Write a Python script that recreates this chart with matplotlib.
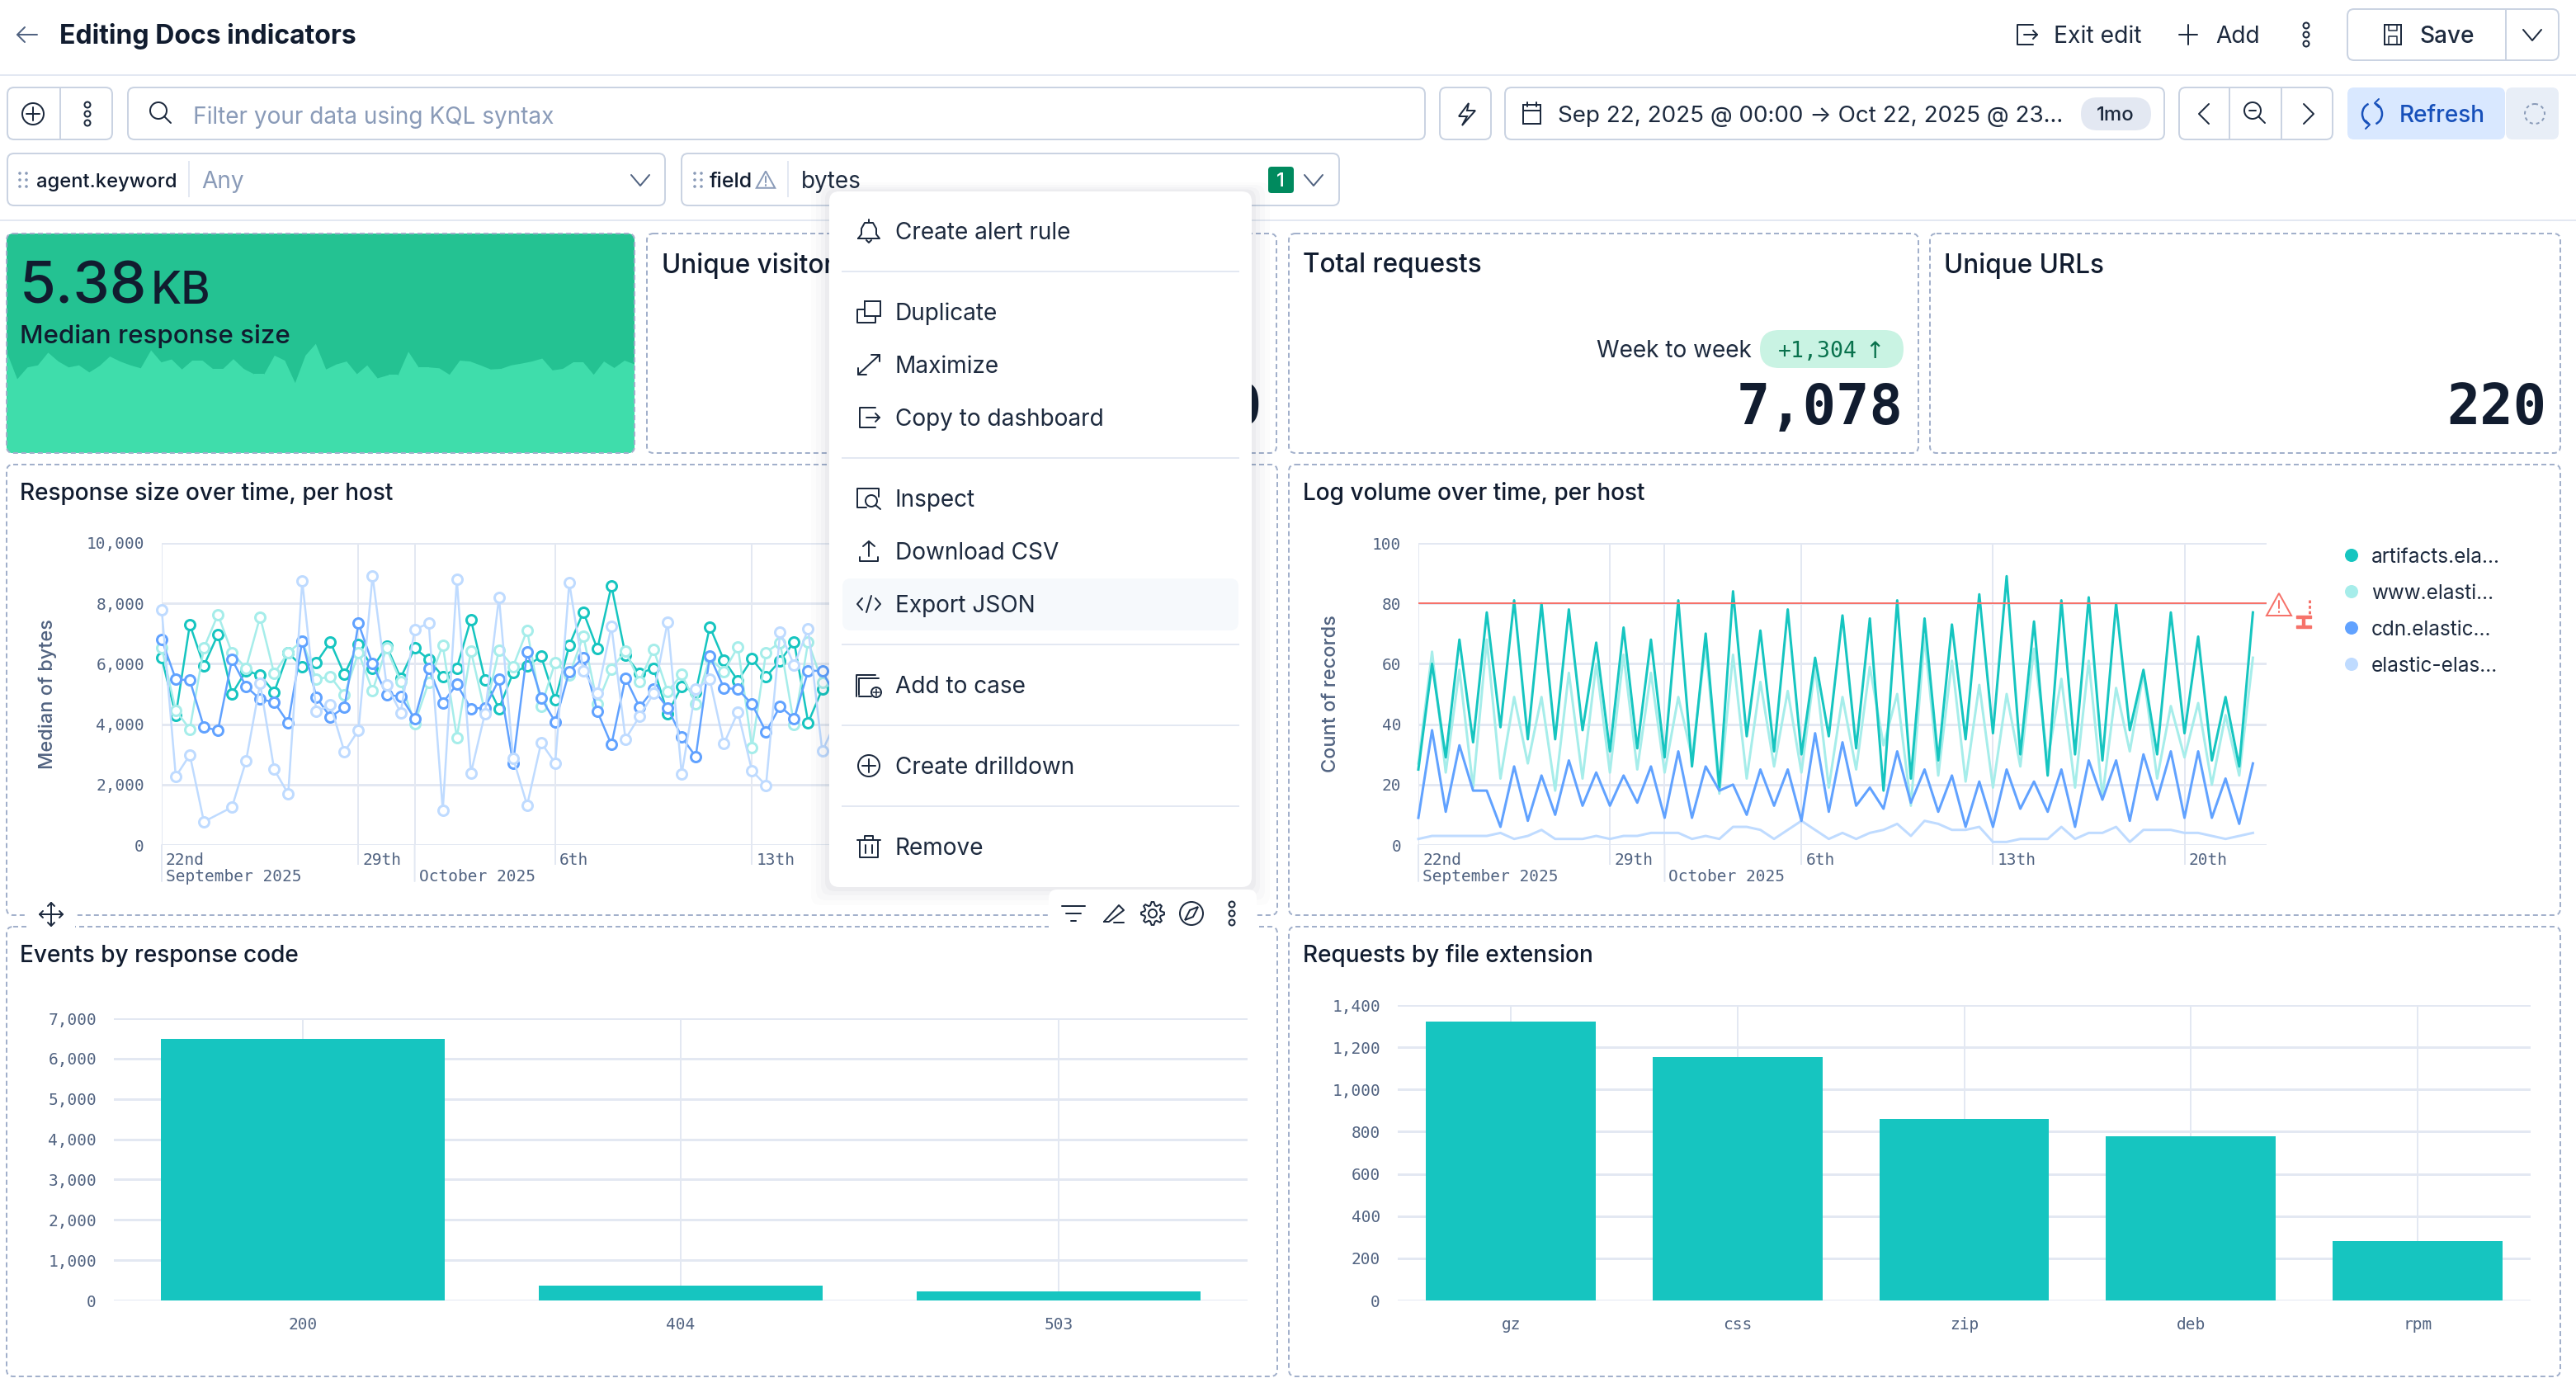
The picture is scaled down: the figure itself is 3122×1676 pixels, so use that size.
import math

import pandas as pd
from matplotlib import dates as mdates, pyplot as plt
from matplotlib.patches import Arc, Circle, FancyBboxPatch, Polygon, Rectangle

W, H = 3122, 1676
DPI = 100

INK = "#111C2F"
TEXT = "#1D2A3E"
SUB = "#516381"
PLACEHOLDER = "#8A9BB8"
LINE = "#E3E8F2"
BORDER = "#CAD3E2"
DASH = "#A2B0CB"
TEAL = "#16C5C0"
TEAL_L = "#A6EDEA"
BLUE = "#61A2FF"
BLUE_L = "#BFDBFF"
RED = "#F6726A"
SANS = ["Inter", "DejaVu Sans"]
MONO = ["DejaVu Sans Mono"]
TICK_PX = 19.5

# half-day buckets, Sep 22 to Oct 22
times = pd.date_range("2025-09-22", periods=62, freq="12h")

# median bytes, the part not hidden by the menu
size_artifacts = [6190, 4290, 7300, 5936, 6970, 5005, 5767, 5625, 5061, 6360, 5908, 6039, 6717, 5644, 6641, 5860,
                  6585, 5531, 6519, 6143, 5578, 5860, 7469, 5465, 4515, 5700, 5926, 6246, 4798, 6613, 7714, 6491,
                  8579, 6284, 5672, 5860, 4355, 5249, 5061, 7225, 6124, 5437, 6162, 5578, 6096, 6726, 4054, 5155, 5343]
size_www = [6519, 4450, 3838, 6519, 7629, 6360, 5860, 7554, 5672, 6378, 6754, 5484, 5578, 4967, 6378, 5108,
            6519, 5409, 4026, 5390, 6613, 3556, 6425, 4403, 6453, 5908, 7112, 4591, 6049, 5625, 6924, 4685,
            5832, 6425, 5418, 6472, 5080, 5644, 4685, 6190, 5738, 6566, 3227, 6378, 6707, 3979, 6726, 5390, 5155]
size_cdn = [6801, 5484, 5456, 3904, 3791, 6143, 5249, 4826, 4732, 4045, 6754, 4901, 4233, 4562, 7337, 6002,
            4967, 4920, 4186, 5842, 4704, 5324, 4515, 4544, 5484, 2709, 6397, 4873, 4073, 5748, 6209, 4421,
            3321, 5531, 4562, 5155, 4534, 3575, 2926, 6256, 5202, 5155, 4666, 3744, 4591, 4186, 5767, 5767, 4873]
size_elastic = [7789, 2267, 2982, 771, None, 1251, 2784, 5343, 2502, 1693, 8730, 4421, 4638, 3085, 3800, 8918,
                5296, 4384, 7130, 7347, 1138, 8786, 2380, 4355, 8194, 2878, 1317, 3387, 2709, 8683, 5767, 5014,
                7243, 3509, 4261, 5014, 7384, 2352, 5174, 5484, 3349, 4403, 2455, 1975, 7037, 5955, 7149, 3104, 4120]

# count of records
log_artifacts = [25, 60, 29, 68, 34, 77, 39, 81, 35, 80, 35, 78, 38, 67, 31, 72, 32, 68, 29, 81, 26, 70, 19, 84, 36, 71,
                 31, 78, 30, 62, 36, 76, 32, 75, 18, 81, 22, 75, 28, 73, 35, 83, 37, 89, 30, 74, 23, 81, 30, 82, 28, 80,
                 38, 58, 30, 77, 37, 69, 28, 49, 26, 77]
log_www = [27, 64, 24, 58, 19, 68, 22, 49, 27, 49, 18, 57, 22, 60, 24, 63, 25, 57, 24, 49, 29, 66, 17, 63, 22, 54,
           26, 51, 24, 59, 19, 49, 25, 59, 33, 50, 13, 69, 23, 61, 21, 53, 19, 50, 26, 65, 28, 55, 19, 61, 16, 52,
           31, 57, 22, 46, 29, 47, 20, 43, 23, 62]
log_cdn = [9, 38, 11, 33, 18, 18, 6, 26, 8, 23, 10, 28, 13, 24, 13, 23, 14, 26, 9, 31, 9, 26, 18, 20, 10, 25,
           13, 25, 8, 37, 11, 34, 13, 19, 12, 31, 14, 25, 11, 23, 6, 21, 6, 25, 12, 21, 11, 25, 6, 28, 15, 28,
           8, 30, 15, 31, 9, 31, 9, 22, 7, 27]
log_elastic = [2, 3, 3, 3, 3, 3, 4, 2, 3, 5, 2, 2, 2, 3, 2, 3, 3, 4, 4, 4, 2, 3, 2, 6, 6, 5,
               2, 5, 8, 5, 2, 4, 2, 4, 5, 7, 3, 8, 7, 5, 5, 6, 1, 1, 2, 2, 2, 6, 2, 4, 4, 6,
               1, 5, 5, 5, 4, 4, 3, 2, 3, 4]
hosts = ["artifacts.ela...", "www.elasti...", "cdn.elastic...", "elastic-elas..."]
host_colors = [TEAL, TEAL_L, BLUE, BLUE_L]

# trend behind the metric tile
trend = [6395, 4712, 5460, 5591, 6395, 5834, 5460, 5591, 5142, 5554, 6152, 5834, 5591, 5404, 6545, 5778, 5965, 5329,
         5890, 5890, 5367, 5367, 5984, 5367, 5030, 5030, 6208, 5890, 4469, 6208, 6956, 5329, 5647, 5834, 5030, 5591,
         4768, 4955, 4955, 6451, 5460, 5460, 5404, 4993, 5890, 5834, 5591, 5329, 5367, 5591, 5703, 5834, 6021, 5273,
         5367, 5778, 5778, 4993, 5834, 5423, 5890, 5647]

codes = ["200", "404", "503"]
code_counts = [6489, 368, 218]
extensions = ["gz", "css", "zip", "deb", "rpm"]
extension_counts = [1320, 1155, 861, 780, 281]

menu_items = ["Create alert rule", "Duplicate", "Maximize", "Copy to dashboard", "Inspect", "Download CSV",
              "Export JSON", "Add to case", "Create drilldown", "Remove"]


def pt(px):
    return px * 72 / DPI


fig = plt.figure(figsize=(W / DPI, H / DPI), dpi=DPI, facecolor="white")


def make_axes(x0, y0, x1, y1, z=1):
    return fig.add_axes([x0 / W, 1 - y1 / H, (x1 - x0) / W, (y1 - y0) / H], zorder=z)


ui = make_axes(0, 0, W, H, z=5)
ui.set_xlim(0, W)
ui.set_ylim(H, 0)
ui.axis("off")
ui.patch.set_alpha(0)


def label(x, y, s, px, color=TEXT, weight="normal", ha="left", va="center_baseline", family=None, z=5, **kw):
    return ui.text(x, y, s, fontsize=pt(px), color=color, fontweight=weight, ha=ha, va=va,
                   family=family or SANS, zorder=z, **kw)


def box(x0, y0, x1, y1, r=8, fc="none", ec=BORDER, lw=2, ls="-", z=2):
    p = FancyBboxPatch((x0 + r, y0 + r), x1 - x0 - 2 * r, y1 - y0 - 2 * r, boxstyle=f"round,pad={r},rounding_size={r}",
                       fc=fc, ec=ec, lw=pt(lw), ls=ls, zorder=z)
    ui.add_patch(p)
    return p


def stroke(xs, ys, color=TEXT, lw=2, z=6, **kw):
    ui.plot(xs, ys, color=color, lw=pt(lw), zorder=z, solid_capstyle="round", **kw)


def ring(x, y, r, color=TEXT, lw=2, fc="none", z=6):
    ui.add_patch(Circle((x, y), r, fc=fc, ec=color, lw=pt(lw), zorder=z))


def dots(x, y, z=6, color=TEXT):
    for dy in (-11, 0, 11):
        ring(x, y + dy, 3.5, color=color, z=z)


def chevron(x, y, color=TEXT, z=6):
    stroke([x - 11, x, x + 11], [y - 6, y + 7, y - 6], color=color, z=z)


def magnifier(x, y, color=TEXT, z=6):
    ring(x - 2, y - 2, 10, color=color, z=z)
    stroke([x + 5, x + 13], [y + 5, y + 13], color=color, z=z)


def exit_icon(x, y, z=6, color=TEXT):
    stroke([x + 8, x - 11, x - 11, x + 8], [y - 12, y - 12, y + 12, y + 12], color=color, z=z)
    stroke([x - 3, x + 13], [y, y], color=color, z=z)
    stroke([x + 8, x + 13, x + 8], [y - 5, y, y + 5], color=color, z=z)


def bell(x, y, z=6):
    xs = [x - 13, x - 9, x - 9, x - 5, x + 5, x + 9, x + 9, x + 13, x - 13]
    ys = [y + 9, y + 4, y - 3, y - 10, y - 10, y - 3, y + 4, y + 9, y + 9]
    stroke(xs, ys, z=z)
    stroke([x, x], [y - 14, y - 10], z=z)
    stroke([x - 3, x, x + 3], [y + 11, y + 14, y + 11], z=z)


def duplicate_icon(x, y, z=6):
    ui.add_patch(Rectangle((x - 5, y - 13), 19, 18, fc="none", ec=TEXT, lw=pt(2), zorder=z))
    stroke([x - 5, x - 14, x - 14, x + 8, x + 8], [y - 3, y - 3, y + 13, y + 13, y + 5], z=z)


def maximize_icon(x, y, z=6):
    stroke([x - 13, x + 13], [y + 12, y - 12], z=z)
    stroke([x + 3, x + 13, x + 13], [y - 12, y - 12, y - 4], z=z)
    stroke([x - 13, x - 13, x - 3], [y + 4, y + 12, y + 12], z=z)


def inspect_icon(x, y, z=6):
    stroke([x - 3, x - 14, x - 14, x + 12, x + 12], [y + 11, y + 11, y - 12, y - 12, y - 2], z=z)
    ring(x + 3, y + 3, 7, z=z)
    stroke([x + 8, x + 14], [y + 8, y + 13], z=z)


def upload_icon(x, y, z=6):
    stroke([x - 11, x - 11, x + 11, x + 11], [y + 7, y + 12, y + 12, y + 7], z=z)
    stroke([x, x], [y - 12, y + 6], z=z)
    stroke([x - 7, x, x + 7], [y - 6, y - 12, y - 6], z=z)


def code_icon(x, y, z=6):
    stroke([x - 8, x - 14, x - 8], [y - 7, y, y + 7], z=z)
    stroke([x + 8, x + 14, x + 8], [y - 7, y, y + 7], z=z)
    stroke([x - 3, x + 3], [y + 10, y - 10], z=z)


def case_icon(x, y, z=6):
    stroke([x - 12, x - 12, x + 12], [y + 12, y - 8, y - 8], z=z)
    stroke([x - 15, x - 15, x + 8], [y + 14, y - 12, y - 12], z=z)
    stroke([x - 12, x + 3], [y + 14, y + 14], z=z)
    ring(x + 9, y + 9, 6, z=z)
    stroke([x + 5, x + 13], [y + 9, y + 9], lw=1.5, z=z)
    stroke([x + 9, x + 9], [y + 5, y + 13], lw=1.5, z=z)


def plus_circle(x, y, r=13, z=6):
    ring(x, y, r, z=z)
    stroke([x - r + 5, x + r - 5], [y, y], z=z)
    stroke([x, x], [y - r + 5, y + r - 5], z=z)


def trash(x, y, z=6):
    stroke([x - 11, x - 11, x + 11, x + 11], [y - 8, y + 13, y + 13, y - 8], z=z)
    stroke([x - 14, x + 14], [y - 8, y - 8], z=z)
    stroke([x - 5, x - 5, x + 5, x + 5], [y - 8, y - 13, y - 13, y - 8], z=z)
    stroke([x - 4, x - 4], [y - 2, y + 8], z=z)
    stroke([x + 4, x + 4], [y - 2, y + 8], z=z)


def warning(x, y, color=PLACEHOLDER, size=1.0, z=6):
    s = size
    ui.add_patch(Polygon([(x, y - 14 * s), (x + 15 * s, y + 13 * s), (x - 15 * s, y + 13 * s)], closed=True,
                         fc="none", ec=color, lw=pt(2), zorder=z))
    stroke([x, x], [y - 5 * s, y + 4 * s], color=color, z=z)
    stroke([x, x], [y + 8 * s, y + 9 * s], color=color, z=z)


def refresh_icon(x, y, color, z=6):
    ui.add_patch(Arc((x, y), 24, 26, theta1=110, theta2=250, color=color, lw=pt(2.5), zorder=z))
    ui.add_patch(Arc((x, y), 24, 26, theta1=290, theta2=70, color=color, lw=pt(2.5), zorder=z))
    stroke([x - 8, x - 3, x - 8], [y + 8, y + 13, y + 18], color=color, z=z)
    stroke([x + 8, x + 3, x + 8], [y - 18, y - 13, y - 8], color=color, z=z)


def gear(x, y, z=10):
    xs, ys = [], []
    for i in range(32):
        radius = 14 if i % 4 in (0, 1) else 10
        angle = 2 * math.pi * (i - 0.5) / 32
        xs.append(x + radius * math.cos(angle))
        ys.append(y + radius * math.sin(angle))
    ui.add_patch(Polygon(list(zip(xs, ys)), closed=True, fc="none", ec=TEXT, lw=pt(2), zorder=z))
    ring(x, y, 5, z=z)


# header row
ui.plot([0, W], [91, 91], color=LINE, lw=pt(2), zorder=1)
stroke([45, 21], [42, 42], color=SUB)
stroke([30, 21, 30], [33, 42, 51], color=SUB)
label(72, 41, "Editing Docs indicators", 32, color=INK, weight="bold")
exit_icon(2456, 42)
label(2489, 42, "Exit edit", 28.3)
stroke([2641, 2663], [42, 42])
stroke([2652, 2652], [30, 54])
label(2685, 42, "Add", 28)
dots(2795, 42)
box(2845, 11, 3101, 73)
ui.plot([3037, 3037], [11, 73], color=BORDER, lw=pt(2), zorder=3)
ui.add_patch(Rectangle((2890, 30), 20, 24, fc="none", ec=TEXT, lw=pt(2), zorder=6))
stroke([2895, 2895, 2905, 2905], [30, 37, 37, 30], lw=1.5)
stroke([2895, 2895, 2905, 2905], [54, 44, 44, 54], lw=1.5)
label(2932, 42, "Save", 28, weight="medium")
chevron(3069, 42)

# query row
box(9, 106, 136, 169)
ui.plot([73, 73], [106, 169], color=BORDER, lw=pt(2), zorder=3)
plus_circle(40, 138)
dots(106, 138)
box(155, 106, 1727, 169)
magnifier(194, 136)
label(234, 139, "Filter your data using KQL syntax", 28, color=PLACEHOLDER)
box(1745, 106, 1807, 169)
ui.add_patch(Polygon([(1780, 125), (1768, 141), (1778, 141), (1772, 152), (1788, 134), (1778, 134)], closed=True,
                     fc="none", ec=TEXT, lw=pt(2), zorder=6))
box(1824, 106, 2623, 169)
ui.add_patch(Rectangle((1846, 127), 21, 23, fc="none", ec=TEXT, lw=pt(2), zorder=6))
stroke([1846, 1867], [134, 134])
stroke([1851, 1851], [124, 129])
stroke([1862, 1862], [124, 129])
label(1888, 138, "Sep 22, 2025 @ 00:00 \u2192 Oct 22, 2025 @ 23...", 27.8)
box(2522, 118, 2607, 158, r=20, fc=LINE, ec="none", z=3)
label(2564, 138, "1mo", 24, ha="center", weight="medium")
box(2641, 106, 2827, 169)
ui.plot([2702, 2702], [106, 169], color=BORDER, lw=pt(2), zorder=3)
ui.plot([2765, 2765], [106, 169], color=BORDER, lw=pt(2), zorder=3)
stroke([2677, 2665, 2677], [126, 138, 150])
magnifier(2732, 136)
stroke([2726, 2734], [134, 134])
stroke([2792, 2804, 2792], [126, 138, 150])
box(2845, 106, 3036, 169, fc="#D9E8FF", ec="none", z=3)
box(3037, 106, 3101, 169, fc="#E8EEF7", ec="none", z=3)
refresh_icon(2875, 138, "#1750BA")
label(2908, 138, "Refresh", 28, color="#1750BA", weight="medium")
ui.add_patch(Circle((3072, 138), 12, fc="none", ec=PLACEHOLDER, lw=pt(2), ls=(0, (2, 2)), zorder=6))

# control row
box(9, 186, 806, 249)
for dx in (24, 32):
    for dy in (210, 218, 226):
        ui.add_patch(Circle((dx, dy), 1.8, fc=PLACEHOLDER, ec="none", zorder=6))
label(44, 218, "agent.keyword", 23.7, color=INK, weight="medium")
ui.plot([229, 229], [196, 238], color=LINE, lw=pt(2), zorder=3)
label(244, 218, "Any", 28, color=PLACEHOLDER)
chevron(776, 218, color=SUB)
box(826, 186, 1623, 249)
for dx in (842, 850):
    for dy in (210, 218, 226):
        ui.add_patch(Circle((dx, dy), 1.8, fc=PLACEHOLDER, ec="none", zorder=6))
label(860, 218, "field", 25, color=INK, weight="medium")
warning(928, 218, size=0.75)
ui.plot([955, 955], [196, 238], color=LINE, lw=pt(2), zorder=3)
label(971, 218, "bytes", 28)
box(1537, 202, 1568, 234, r=4, fc="#008A5E", ec="none", z=3)
label(1552, 218, "1", 24, color="white", ha="center", weight="medium")
chevron(1592, 218, color=SUB)
ui.plot([0, W], [267, 267], color=LINE, lw=pt(2), zorder=1)

# panels
dash = (0, (3, 2))
tile_edge = box(8, 283, 769, 549, r=8, ec=DASH, ls=dash, z=3)
for x0, x1 in [(784, 1547), (1562, 2325), (2339, 3103)]:
    box(x0, 283, x1, 549, ec=DASH, ls=dash, z=3)
for x0, x1 in [(8, 1548), (1562, 3103)]:
    box(x0, 563, x1, 1109, ec=DASH, ls=dash, z=0)
    box(x0, 1123, x1, 1668, ec=DASH, ls=dash, z=0)

# metric tile trend, sits under the ui layer
tile = make_axes(8, 283, 769, 549, z=2)
tile.set_facecolor("#24C292")
trend_area = tile.fill_between(range(len(trend)), trend, 0, color="#3FDDAB", lw=0)
tile.set_xlim(0, len(trend) - 1)
tile.set_ylim(0, 13930)
tile.set_xticks([])
tile.set_yticks([])
for side in tile.spines:
    tile.spines[side].set_visible(False)
tile.patch.set_clip_path(tile_edge)
trend_area.set_clip_path(tile_edge)

label(24, 368, "5.38", 71, color=INK, weight="medium", va="baseline")
label(183, 368, "KB", 54, color=INK, weight="medium", va="baseline")
label(24, 404, "Median response size", 31.3, color=INK, weight="medium")

label(802, 318, "Unique visitors", 31.5, color=INK, weight="medium")
label(1579, 318, "Total requests", 31.5, color=INK, weight="medium")
label(2356, 318, "Unique URLs", 31.5, color=INK, weight="medium")
label(1935, 422, "Week to week", 28)
box(2133, 400, 2307, 446, r=23, fc="#C9F3E3", ec="none", z=3)
label(2155, 423, "+1,304", 26.5, color="#09724D", family=MONO, weight="medium")
label(2272, 423, "\u2191", 28, color="#09724D", ha="center", family=["DejaVu Sans"])
label(2307, 514, "7,078", 67, color=INK, family=MONO, weight="bold", ha="right", va="baseline")
label(3086, 514, "220", 67, color=INK, family=MONO, weight="bold", ha="right", va="baseline")
label(1529, 514, "0", 67, color=INK, family=MONO, weight="bold", ha="right", va="baseline")

label(24, 595, "Response size over time, per host", 28, color=INK, weight="medium")
label(1579, 595, "Log volume over time, per host", 28, color=INK, weight="medium")
label(24, 1155, "Events by response code", 28, color=INK, weight="medium")
label(1579, 1155, "Requests by file extension", 28, color=INK, weight="medium")


def style_axes(ax):
    for side in ("top", "right", "bottom", "left"):
        ax.spines[side].set_visible(False)
    ax.grid(True, axis="y", color=LINE, lw=pt(3))
    ax.grid(True, axis="x", color=LINE, lw=pt(2))
    ax.set_axisbelow(True)
    ax.tick_params(axis="y", length=0, pad=pt(21), labelsize=pt(TICK_PX), labelcolor=SUB)
    for t in ax.get_yticklabels():
        t.set_family(MONO)
        t.set_verticalalignment("center_baseline")


def date_axis(ax, major, names):
    ax.set_xlim(mdates.date2num(pd.Timestamp("2025-09-22")), mdates.date2num(pd.Timestamp("2025-10-23")))
    days = mdates.date2num(pd.to_datetime(major))
    oct_1 = mdates.date2num(pd.Timestamp("2025-10-01"))
    ax.set_xticks(days)
    ax.set_xticklabels([])
    ax.tick_params(axis="x", length=pt(24), width=pt(2), color=LINE)
    tr = ax.get_xaxis_transform()
    ax.axvline(oct_1, color=LINE, lw=pt(2), zorder=0.5)
    for d in (oct_1, days[0]):
        ax.annotate("", (d, 0), xycoords=tr, xytext=(0, -44), textcoords="offset pixels",
                    arrowprops=dict(arrowstyle="-", color=LINE, lw=pt(2), shrinkA=0, shrinkB=0))
    for d, name in zip(days, names):
        ax.annotate(name, (d, 0), xycoords=tr, xytext=(5, -16), textcoords="offset pixels", va="center_baseline",
                    fontsize=pt(TICK_PX), color=SUB, family=MONO)
    ax.annotate("September 2025", (days[0], 0), xycoords=tr, xytext=(5, -36), textcoords="offset pixels",
                va="center_baseline", fontsize=pt(TICK_PX), color=SUB, family=MONO)
    ax.annotate("October 2025", (oct_1, 0), xycoords=tr, xytext=(5, -36), textcoords="offset pixels",
                va="center_baseline", fontsize=pt(TICK_PX), color=SUB, family=MONO)


major_days = ["2025-09-22", "2025-09-29", "2025-10-06", "2025-10-13", "2025-10-20"]
time_nums = mdates.date2num(times)

# response size chart
ax1 = make_axes(196, 658, 1252, 1024)
ax1.set_ylim(0, 10000)
ax1.set_yticks(range(0, 10001, 2000))
ax1.set_yticklabels([f"{v:,}" for v in range(0, 10001, 2000)])
style_axes(ax1)
date_axis(ax1, major_days, ["22nd", "29th", "6th", "13th"])
for series, color in zip([size_artifacts, size_www, size_cdn, size_elastic], host_colors):
    pts = [(t, v) for t, v in zip(time_nums, series) if v is not None]
    ax1.plot([p[0] for p in pts], [p[1] for p in pts], color=color, lw=pt(2.5), marker="o", ms=pt(12),
             mfc="white", mec=color, mew=pt(3), clip_on=False)
ax1.set_ylabel("Median of bytes", fontsize=pt(23.5), color=SUB, fontweight="medium", family=SANS, labelpad=0)
ax1.yaxis.set_label_coords((69 - 196) / (1252 - 196), 0.5)

# log volume chart
ax2 = make_axes(1719, 658, 2747, 1024)
ax2.set_ylim(0, 100)
ax2.set_yticks(range(0, 101, 20))
ax2.set_yticklabels([str(v) for v in range(0, 101, 20)])
style_axes(ax2)
date_axis(ax2, major_days, ["22nd", "29th", "6th", "13th", "20th"])
for series, color in zip([log_elastic, log_www, log_artifacts, log_cdn], [BLUE_L, TEAL_L, TEAL, BLUE]):
    ax2.plot(time_nums[:len(series)], series, color=color, lw=pt(3), clip_on=False)
ax2.axhline(80, color=RED, lw=pt(2))
ax2.set_ylabel("Count of records", fontsize=pt(23.5), color=SUB, fontweight="medium", family=SANS, labelpad=0)
ax2.yaxis.set_label_coords((1624 - 1719) / (2747 - 1719), 0.5)

warning(2762, 733, color=RED, size=1.0)
stroke([2799, 2799], [727, 745], color=RED, lw=3, ls=(0, (1.2, 1)))
ui.add_patch(Rectangle((2783, 746), 18, 3, fc=RED, ec=RED, zorder=6))
ui.add_patch(Rectangle((2783, 758), 18, 3, fc=RED, ec=RED, zorder=6))
ui.add_patch(Rectangle((2790, 748), 3, 12, fc=RED, ec=RED, zorder=6))
for y, name, color in zip([673, 717, 761, 805], hosts, host_colors):
    ui.add_patch(Circle((2850, y), 8, fc=color, ec="none", zorder=6))
    label(2874, y, name, 24.3, color=TEXT)

# bar charts
ax3 = make_axes(138, 1234, 1512, 1576)
ax3.bar(codes, code_counts, width=0.75, color=TEAL, zorder=3)
ax3.set_xlim(-0.5, 2.5)
ax3.set_ylim(0, 7000)
ax3.set_yticks(range(0, 7001, 1000))
ax3.set_yticklabels([f"{v:,}" for v in range(0, 7001, 1000)])
style_axes(ax3)
ax3.tick_params(axis="x", length=0, pad=pt(20), labelsize=pt(TICK_PX), labelcolor=SUB)
for t in ax3.get_xticklabels():
    t.set_family(MONO)

ax4 = make_axes(1694, 1218, 3067, 1576)
ax4.bar(extensions, extension_counts, width=0.75, color=TEAL, zorder=3)
ax4.set_xlim(-0.5, 4.5)
ax4.set_ylim(0, 1400)
ax4.set_yticks(range(0, 1401, 200))
ax4.set_yticklabels([f"{v:,}" for v in range(0, 1401, 200)])
style_axes(ax4)
ax4.tick_params(axis="x", length=0, pad=pt(20), labelsize=pt(TICK_PX), labelcolor=SUB)
for t in ax4.get_xticklabels():
    t.set_family(MONO)

# open panel menu, on top of everything
for grow, alpha in [(22, 0.012), (16, 0.015), (10, 0.02), (5, 0.03)]:
    box(1005 - grow, 232 - grow / 2, 1517 + grow, 1075 + grow, r=12, fc="#1D2A3E", ec="none", z=7).set_alpha(alpha)
for x0, y0, x1, y1, r in [(1005, 232, 1517, 1075, 12), (1271, 1078, 1523, 1141, 10), (32, 1076, 91, 1140, 10)]:
    box(x0, y0, x1, y1, r=r, fc="white", ec="none", z=8)
box(1021, 701, 1501, 764, r=10, fc="#F6F9FC", ec="none", z=9)
for y in (329, 555, 781, 879, 977):
    ui.plot([1021, 1501], [y, y], color=LINE, lw=pt(2), zorder=9)
item_y = [280, 378, 442, 506, 604, 668, 732, 830, 928, 1026]
for y, item in zip(item_y, menu_items):
    label(1085, y - 1, item, 28, color=TEXT, z=10)
bell(1053, 280, z=10)
duplicate_icon(1053, 378, z=10)
maximize_icon(1053, 442, z=10)
exit_icon(1053, 506, z=10)
inspect_icon(1053, 604, z=10)
upload_icon(1053, 668, z=10)
code_icon(1053, 732, z=10)
case_icon(1053, 830, z=10)
plus_circle(1053, 928, z=10)
trash(1053, 1026, z=10)

# panel hover toolbar
for half, dy in [(14, -9), (9, 0), (3, 9)]:
    stroke([1301 - half, 1301 + half], [1107 + dy, 1107 + dy], z=10)
stroke([1338, 1356, 1362, 1344, 1338, 1338], [1117, 1097, 1103, 1117, 1117, 1117], z=10)
stroke([1350, 1362], [1118, 1118], z=10)
gear(1397, 1107)
ring(1444, 1107, 14, z=10)
ui.add_patch(Polygon([(1436, 1115), (1442, 1103), (1452, 1099), (1446, 1111)], closed=True, fc="none", ec=TEXT,
                     lw=pt(2), zorder=10))
dots(1493, 1107, z=10)
stroke([62, 62], [1094, 1122], z=10)
stroke([48, 76], [1108, 1108], z=10)
stroke([58, 62, 66], [1098, 1094, 1098], z=10)
stroke([58, 62, 66], [1118, 1122, 1118], z=10)
stroke([52, 48, 52], [1104, 1108, 1112], z=10)
stroke([72, 76, 72], [1104, 1108, 1112], z=10)

fig.savefig("out.png", dpi=DPI)
